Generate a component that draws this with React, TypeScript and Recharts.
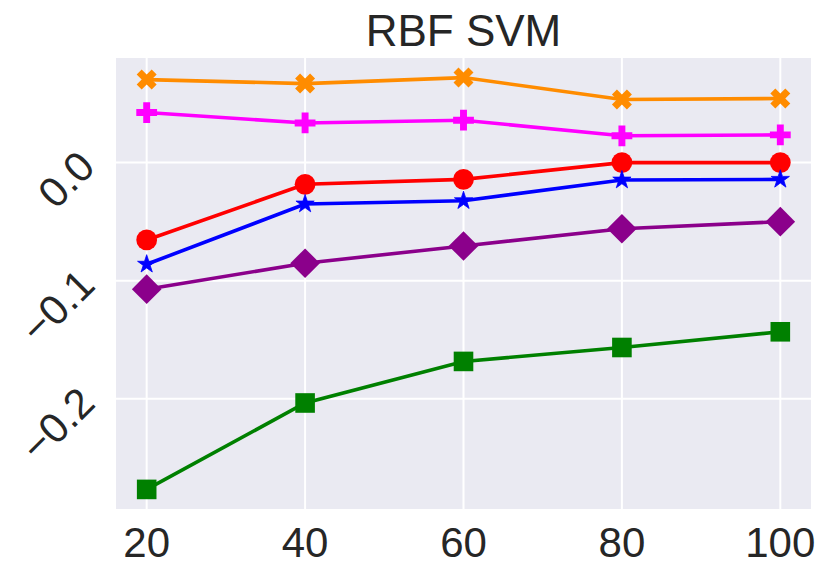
import React from 'react';
import { LineChart, Line, XAxis, YAxis, CartesianGrid } from 'recharts';

// ---- data ----
const sizes = [20, 40, 60, 80, 100];
const orangeX = [0.0703, 0.0669, 0.072, 0.0534, 0.0543];
const magentaPlus = [0.0424, 0.0336, 0.0359, 0.0227, 0.0235];
const redCircle = [-0.0655, -0.0184, -0.0142, 0.0, 0.0];
const blueStar = [-0.0861, -0.0351, -0.0323, -0.0148, -0.0142];
const purpleDiamond = [-0.1072, -0.0852, -0.0706, -0.056, -0.05];
const greenSquare = [-0.2768, -0.2036, -0.1684, -0.1566, -0.1433];
const xTicks = [20, 40, 60, 80, 100];
const yTicks = [-0.2, -0.1, 0.0];
const title = 'RBF SVM';

const FONT = '"Liberation Sans", Arial, Helvetica, sans-serif';
const TEXT = '#262626';

const data = sizes.map((s, i) => ({
  x: s,
  orange: orangeX[i],
  magenta: magentaPlus[i],
  red: redCircle[i],
  blue: blueStar[i],
  purple: purpleDiamond[i],
  green: greenSquare[i],
}));

// matplotlib-like 5% margins
const allY = [...orangeX, ...magentaPlus, ...redCircle, ...blueStar, ...purpleDiamond, ...greenSquare];
const yMin = Math.min(...allY);
const yMax = Math.max(...allY);
const yPad = (yMax - yMin) * 0.05;
const xMin = Math.min(...sizes);
const xMax = Math.max(...sizes);
const xPad = (xMax - xMin) * 0.05;

type Shape = 'circle' | 'square' | 'diamond' | 'star' | 'plus' | 'x';

const plusPts = [
  [-1, -3], [1, -3], [1, -1], [3, -1], [3, 1], [1, 1],
  [1, 3], [-1, 3], [-1, 1], [-3, 1], [-3, -1], [-1, -1],
];

function markerEl(shape: Shape, cx: number, cy: number, color: string, key: any) {
  if (cx == null || cy == null) return <g key={key} />;
  switch (shape) {
    case 'circle':
      return <circle key={key} cx={cx} cy={cy} r={10.4} fill={color} />;
    case 'square':
      return <rect key={key} x={cx - 9.8} y={cy - 9.8} width={19.6} height={19.6} fill={color} />;
    case 'diamond': {
      const h = 14.8;
      return (
        <polygon
          key={key}
          points={`${cx},${cy - h} ${cx + h},${cy} ${cx},${cy + h} ${cx - h},${cy}`}
          fill={color}
        />
      );
    }
    case 'star': {
      const R = 9.6;
      const r = R * 0.381966;
      const pts: string[] = [];
      for (let k = 0; k < 10; k++) {
        const ang = (Math.PI / 5) * k - Math.PI / 2;
        const rr = k % 2 === 0 ? R : r;
        pts.push(`${cx + rr * Math.cos(ang)},${cy + rr * Math.sin(ang)}`);
      }
      return <polygon key={key} points={pts.join(' ')} fill={color} stroke={color} strokeWidth={0.8} />;
    }
    case 'plus': {
      const s = 10.4 / 3;
      const pts = plusPts.map(([a, b]) => `${cx + a * s},${cy + b * s}`).join(' ');
      return <polygon key={key} points={pts} fill={color} />;
    }
    case 'x': {
      const s = 10.6 / 3;
      const c = Math.SQRT1_2;
      const pts = plusPts
        .map(([a, b]) => `${cx + (a * c - b * c) * s},${cy + (a * c + b * c) * s}`)
        .join(' ');
      return <polygon key={key} points={pts} fill={color} />;
    }
  }
  return <g key={key} />;
}

const makeDot = (shape: Shape, color: string) => (props: any) =>
  markerEl(shape, props.cx, props.cy, color, `${shape}-${props.index}`);

const fmtY = (v: number) => {
  const s = Math.abs(v) < 1e-9 ? '0.0' : v.toFixed(1);
  return s.replace('-', '\u2212');
};

const YTick = (props: any) => {
  const { x, y, payload } = props;
  const ty = y + 6.5;
  return (
    <text
      x={x}
      y={ty}
      transform={`rotate(-45 ${x} ${ty})`}
      textAnchor="end"
      fontFamily={FONT}
      fontSize={42}
      fill={TEXT}
    >
      {fmtY(payload.value)}
    </text>
  );
};

const XTick = (props: any) => {
  const { x, y, payload } = props;
  return (
    <text x={x} y={y} dy="0.71em" textAnchor="middle" fontFamily={FONT} fontSize={42} fill={TEXT}>
      {payload.value}
    </text>
  );
};

const series: { key: string; color: string; shape: Shape }[] = [
  { key: 'orange', color: '#FF8C00', shape: 'x' },
  { key: 'magenta', color: '#FF00FF', shape: 'plus' },
  { key: 'red', color: '#FF0000', shape: 'circle' },
  { key: 'blue', color: '#0000FF', shape: 'star' },
  { key: 'purple', color: '#8B008B', shape: 'diamond' },
  { key: 'green', color: '#008000', shape: 'square' },
];

export default function App() {
  return (
    <div style={{ position: 'absolute', left: 0, top: 0, width: 830, height: 578, background: '#fff' }}>
      <LineChart
        width={830}
        height={578}
        data={data}
        margin={{ top: 57, right: 18, bottom: 0, left: 0 }}
      >
        <CartesianGrid stroke="#ffffff" strokeWidth={2} fill="#EAEAF2" fillOpacity={1} />
        <XAxis
          dataKey="x"
          type="number"
          domain={[xMin - xPad, xMax + xPad]}
          ticks={xTicks}
          height={68}
          axisLine={false}
          tickLine={false}
          tickSize={0}
          tickMargin={17}
          tick={<XTick />}
          interval={0}
        />
        <YAxis
          type="number"
          domain={[yMin - yPad, yMax + yPad]}
          ticks={yTicks}
          width={115}
          axisLine={false}
          tickLine={false}
          tickSize={0}
          tickMargin={18}
          tick={<YTick />}
          interval={0}
          allowDataOverflow
        />
        {series.map((s) => (
          <Line
            key={s.key}
            type="linear"
            dataKey={s.key}
            stroke={s.color}
            strokeWidth={3.6}
            dot={makeDot(s.shape, s.color)}
            activeDot={false}
            isAnimationActive={false}
          />
        ))}
      </LineChart>
      <svg
        width={830}
        height={60}
        style={{ position: 'absolute', left: 0, top: 0, pointerEvents: 'none' }}
      >
        <text x={463.5} y={46} textAnchor="middle" fontFamily={FONT} fontSize={44} fill={TEXT}>
          {title}
        </text>
      </svg>
    </div>
  );
}
